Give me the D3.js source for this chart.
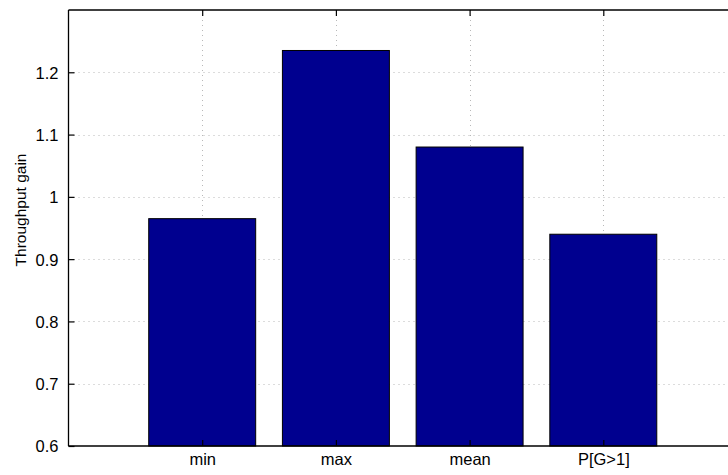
<!DOCTYPE html>
<html><head><meta charset="utf-8">
<script src="https://cdn.jsdelivr.net/npm/d3@7"></script>
<style>html,body{margin:0;padding:0;background:#fff;overflow:hidden}svg{display:block}</style>
</head><body>
<script>
const categories = ["min", "max", "mean", "P[G>1]"];
const gains = [0.965, 1.235, 1.08, 0.94];
const yTicks = [0.6, 0.7, 0.8, 0.9, 1, 1.1, 1.2];
const yLabel = "Throughput gain";

const W = 728, H = 475;
const L = 68.5, T = 10, B = 446, R = 737;
const svg = d3.select("body").append("svg").attr("width", W).attr("height", H);
const font = "'Liberation Sans', Arial, Helvetica, sans-serif";

const x = d3.scaleLinear().domain([0, 5]).range([L, R]);
const y = d3.scaleLinear().domain([0.6, 1.3]).range([B, T]);
const xi = categories.map((c, i) => i + 1);

// grid
const grid = svg.append("g").attr("stroke", "#b8b8b8").attr("stroke-width", 1).attr("stroke-dasharray", "1,4");
grid.selectAll("line.h").data(yTicks.slice(1)).join("line")
  .attr("x1", L).attr("x2", R).attr("y1", d => Math.round(y(d)) + 0.5).attr("y2", d => Math.round(y(d)) + 0.5);
grid.selectAll("line.v").data(xi).join("line")
  .attr("y1", T).attr("y2", B).attr("x1", d => Math.round(x(d)) + 0.5).attr("x2", d => Math.round(x(d)) + 0.5);

// bars
const bw = x(0.8) - x(0);
svg.append("g").selectAll("rect").data(gains).join("rect")
  .attr("x", (d, i) => x(xi[i]) - bw / 2)
  .attr("y", d => y(d))
  .attr("width", bw)
  .attr("height", d => B - y(d))
  .attr("fill", "#00008f").attr("stroke", "#000").attr("stroke-width", 1);

// axes box
const ax = svg.append("g").attr("stroke", "#000").attr("stroke-width", 1.3).attr("fill", "none");
ax.append("line").attr("x1", L).attr("x2", R).attr("y1", T).attr("y2", T);
ax.append("line").attr("x1", L).attr("x2", R).attr("y1", B).attr("y2", B);
ax.append("line").attr("x1", L).attr("x2", L).attr("y1", T).attr("y2", B);

// y axis ticks (inward)
const yAxis = d3.axisLeft(y).tickValues(yTicks).tickSize(-6).tickPadding(10).tickFormat(d3.format("~g"));
const gy = svg.append("g").attr("transform", `translate(${L},0)`).call(yAxis);
gy.select(".domain").remove();
gy.selectAll(".tick line").attr("stroke", "#000").attr("stroke-width", 1.2);
gy.selectAll(".tick text").attr("font-family", font).attr("font-size", 16.5).attr("fill", "#000").attr("dy", "0.36em");

// x axis ticks (inward from bottom)
const xAxis = d3.axisBottom(x).tickValues(xi).tickSize(-6).tickPadding(7).tickFormat((d, i) => categories[i]);
const gx = svg.append("g").attr("transform", `translate(0,${B})`).call(xAxis);
gx.select(".domain").remove();
gx.selectAll(".tick line").attr("stroke", "#000").attr("stroke-width", 1.2);
gx.selectAll(".tick text").attr("font-family", font).attr("font-size", 16.5).attr("fill", "#000");
// top ticks
const gxt = svg.append("g").attr("transform", `translate(0,${T})`).call(d3.axisTop(x).tickValues(xi).tickSize(-6).tickFormat(""));
gxt.select(".domain").remove();
gxt.selectAll(".tick line").attr("stroke", "#000").attr("stroke-width", 1.2);

// y label
svg.append("text").attr("transform", `translate(26,210) rotate(-90)`)
  .attr("text-anchor", "middle").attr("font-family", font).attr("font-size", 15.5).attr("fill", "#000")
  .text(yLabel);
</script>
</body></html>
